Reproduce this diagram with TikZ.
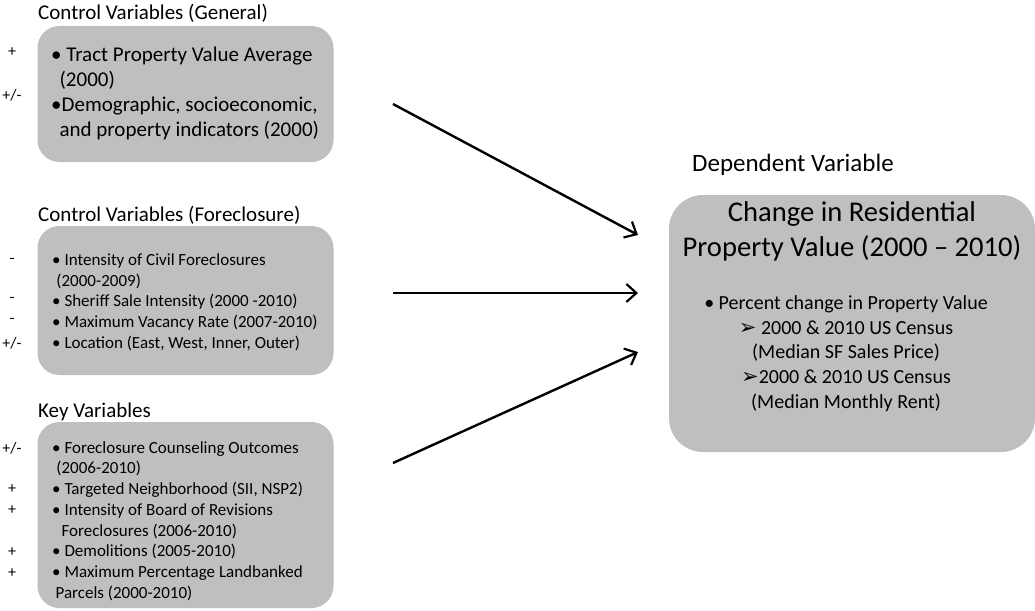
\documentclass[tikz,border=0pt]{standalone}
\usepackage{fontspec}
\setmainfont{Carlito}
\newfontfamily\symfont{DejaVu Sans}
\usetikzlibrary{arrows.meta}
\definecolor{boxgray}{RGB}{191,191,191}
\tikzset{
  varbox/.style={fill=boxgray, rounded corners=22pt, minimum width=296pt},
  vartext/.style={anchor=west, align=left, inner sep=0pt, font=\fontsize{17}{20.7}\selectfont},
  heading/.style={anchor=west, inner sep=0pt, font=\fontsize{21}{25}\selectfont},
  sign/.style={font=\fontsize{16}{18}\selectfont},
  effect/.style={line width=2.4pt, -{Straight Barb[length=10pt,width=18pt,line width=2.2pt]}}
}
\newcommand{\sarrow}{{\symfont\fontsize{21}{20}\selectfont ➢}}
\begin{document}
\begin{tikzpicture}[x=1pt,y=-1pt]
  \useasboundingbox (0,0) rectangle (1035,610);
  % left column: groups of independent variables
  \node [heading] (tgen) at (38,13) {Control Variables (General)};
  \node [varbox, minimum height=136pt] (general) at (185.5,94) {};
  \node [vartext, font=\fontsize{21}{25}\selectfont] (generaltext) at (51,93)
    {• Tract Property Value Average\\\hspace*{0.4em}(2000)\\•Demographic, socioeconomic,\\\hspace*{0.4em}and property indicators (2000)};
  \node [heading] (tfor) at (38,215) {Control Variables (Foreclosure)};
  \node [varbox, minimum height=149pt] (forecl) at (185.5,300.5) {};
  \node [vartext] (forecltext) at (52,302)
    {• Intensity of Civil Foreclosures\\\hspace*{0.25em}(2000-2009)\\• Sheriff Sale Intensity (2000 -2010)\\• Maximum Vacancy Rate (2007-2010)\\• Location (East, West, Inner, Outer)};
  \node [heading] (tkey) at (38,412) {Key Variables};
  \node [varbox, minimum height=186pt] (key) at (185.5,515) {};
  \node [vartext] (keytext) at (52,521)
    {• Foreclosure Counseling Outcomes\\\hspace*{0.25em}(2006-2010)\\• Targeted Neighborhood (SII, NSP2)\\• Intensity of Board of Revisions\\\hspace*{0.55em}Foreclosures (2006-2010)\\• Demolitions (2005-2010)\\• Maximum Percentage Landbanked\\\hspace*{0.2em}Parcels (2000-2010)};
  % signs of the expected effect
  \node [sign] (s1) at (12,52) {+};
  \node [sign] (s2) at (12,95) {+/-};
  \node [sign] (s3) at (12,261) {-};
  \node [sign] (s4) at (12,300) {-};
  \node [sign] (s5) at (12,321) {-};
  \node [sign] (s6) at (12,343) {+/-};
  \node [sign] (s7) at (12,448) {+/-};
  \node [sign] (s8) at (12,489) {+};
  \node [sign] (s9) at (12,510) {+};
  \node [sign] (s10) at (12,552) {+};
  \node [sign] (s11) at (12,573) {+};
  % right column: dependent variable
  \node [heading, font=\fontsize{25}{30}\selectfont] (tdep) at (692,165) {Dependent Variable};
  \node [fill=boxgray, rounded corners=34pt, minimum width=366pt, minimum height=257pt] (dep) at (852,323.5) {};
  \node [align=center, font=\fontsize{28.6}{35}\selectfont, anchor=center] (deptitle) at (852,231)
    {Change in Residential\\Property Value (2000 -- 2010)};
  \node [align=center, font=\fontsize{20}{24.7}\selectfont, anchor=center] (depbody) at (846,353.5)
    {• Percent change in Property Value\\\sarrow\ 2000 \& 2010 US Census\\(Median SF Sales Price)\\\sarrow2000 \& 2010 US Census\\(Median Monthly Rent)};
  % effects
  \coordinate (a1) at (393,104);
  \coordinate (b1) at (638,235);
  \coordinate (a2) at (393,293);
  \coordinate (b2) at (638,293);
  \coordinate (a3) at (393,463);
  \coordinate (b3) at (638,352);
  \draw [effect] (a1) -- (b1);
  \draw [effect] (a2) -- (b2);
  \draw [effect] (a3) -- (b3);
\end{tikzpicture}
\end{document}
